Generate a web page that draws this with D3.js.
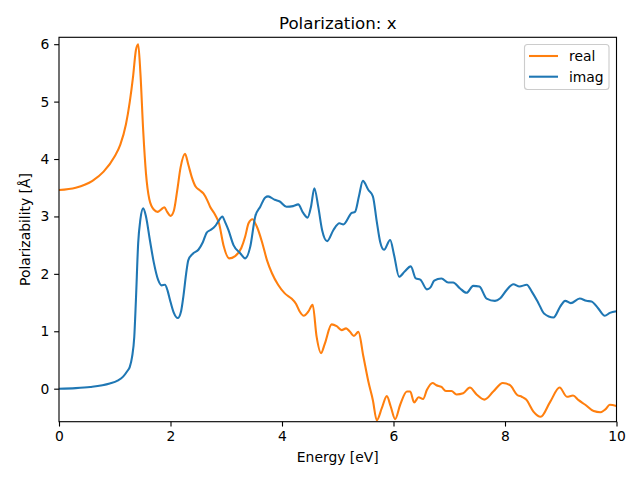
<!DOCTYPE html>
<html>
<head>
<meta charset="utf-8">
<script src="https://cdn.jsdelivr.net/npm/d3@7"></script>
<style>
  html, body { margin: 0; padding: 0; background: #fff; }
  text { font-family: "DejaVu Sans", sans-serif; }
</style>
</head>
<body>
<svg id="chart" width="640" height="480"></svg>
<script>
// ---- data ----
const realX = [0,0.3,0.6,0.8,1.0,1.1,1.2,1.27,1.33,1.38,1.42,1.46,1.51,1.56,1.62,1.7,1.77,1.83,1.89,1.94,2.0,2.06,2.12,2.18,2.26,2.32,2.38,2.45,2.52,2.59,2.66,2.71,2.80,2.87,2.95,3.05,3.16,3.27,3.34,3.40,3.47,3.55,3.64,3.73,3.82,3.93,4.05,4.17,4.25,4.32,4.39,4.47,4.55,4.62,4.70,4.77,4.89,4.98,5.07,5.15,5.22,5.29,5.37,5.46,5.55,5.63,5.70,5.79,5.88,5.95,6.03,6.12,6.24,6.30,6.37,6.45,6.53,6.60,6.70,6.77,6.86,6.94,7.04,7.13,7.25,7.37,7.49,7.63,7.79,7.96,8.09,8.22,8.30,8.38,8.51,8.64,8.81,8.98,9.11,9.22,9.32,9.44,9.59,9.71,9.80,9.88,10.0];
const realY = [3.46,3.50,3.62,3.78,4.05,4.25,4.6,5.0,5.45,5.9,6.0,5.5,4.5,3.75,3.3,3.12,3.08,3.12,3.16,3.08,3.01,3.1,3.45,3.85,4.09,3.9,3.69,3.52,3.46,3.40,3.28,3.17,3.03,2.88,2.50,2.27,2.31,2.45,2.65,2.88,2.95,2.82,2.56,2.24,2.01,1.81,1.66,1.57,1.48,1.34,1.27,1.34,1.46,0.91,0.62,0.79,1.12,1.09,1.02,1.05,0.99,0.92,0.99,0.56,0.12,-0.20,-0.55,-0.34,-0.13,-0.31,-0.53,-0.28,-0.05,-0.05,-0.24,-0.15,-0.18,-0.02,0.10,0.06,0.03,-0.04,-0.04,-0.10,-0.08,0.02,-0.10,-0.19,-0.05,0.10,0.06,-0.11,-0.14,-0.19,-0.40,-0.49,-0.23,0.02,-0.14,-0.12,-0.20,-0.28,-0.39,-0.41,-0.36,-0.28,-0.30];

const imagX = [0,0.3,0.56,0.91,1.05,1.15,1.22,1.27,1.31,1.35,1.38,1.42,1.46,1.51,1.56,1.63,1.7,1.78,1.84,1.90,1.95,1.99,2.06,2.13,2.19,2.23,2.28,2.32,2.40,2.50,2.58,2.65,2.71,2.80,2.86,2.93,2.98,3.04,3.13,3.25,3.34,3.43,3.52,3.61,3.70,3.75,3.87,3.96,4.08,4.20,4.29,4.38,4.46,4.52,4.58,4.65,4.72,4.81,4.92,5.03,5.10,5.25,5.31,5.38,5.45,5.55,5.63,5.70,5.76,5.83,5.94,6.01,6.10,6.20,6.31,6.40,6.48,6.60,6.66,6.73,6.86,6.98,7.07,7.19,7.31,7.43,7.54,7.67,7.82,7.91,8.03,8.15,8.26,8.39,8.48,8.60,8.70,8.87,8.99,9.08,9.18,9.34,9.46,9.55,9.67,9.79,9.88,10.0];
const imagY = [0.0,0.01,0.03,0.09,0.14,0.21,0.30,0.38,0.55,0.9,1.55,2.53,2.95,3.14,3.0,2.59,2.2,1.89,1.80,1.81,1.7,1.55,1.32,1.23,1.35,1.60,2.0,2.24,2.35,2.42,2.55,2.72,2.76,2.83,2.92,3.0,2.9,2.76,2.50,2.36,2.27,2.47,3.0,3.17,3.33,3.35,3.29,3.26,3.17,3.18,3.21,3.06,2.98,3.17,3.49,3.17,2.76,2.57,2.76,2.88,2.86,3.06,3.08,3.35,3.62,3.46,3.35,2.91,2.56,2.42,2.59,2.33,1.95,2.04,2.13,1.92,1.90,1.73,1.76,1.88,1.92,1.85,1.85,1.75,1.67,1.79,1.78,1.57,1.53,1.57,1.72,1.82,1.78,1.81,1.69,1.49,1.31,1.24,1.43,1.53,1.49,1.57,1.53,1.52,1.40,1.27,1.32,1.35];

const xTicks = [0, 2, 4, 6, 8, 10];
const yTicks = [0, 1, 2, 3, 4, 5, 6];
const seriesNames = ["real", "imag"];
const seriesColors = ["#ff7f0e", "#1f77b4"];

// ---- layout ----
const svg = d3.select("#chart");
const L = 59, R = 616.5, T = 37.3, B = 421.7;
const x = d3.scaleLinear().domain([0, 10]).range([L, R]);
const y = d3.scaleLinear().domain([-0.575, 6.12]).range([B, T]);
const pt = 100 / 72;

const series = [
  realX.map((v, i) => [v, realY[i]]),
  imagX.map((v, i) => [v, imagY[i]])
];

svg.append("defs").append("clipPath").attr("id", "clip")
  .append("rect").attr("x", L).attr("y", T).attr("width", R - L).attr("height", B - T);

const line = d3.line().x(d => x(d[0])).y(d => y(d[1])).curve(d3.curveMonotoneX);

const g = svg.append("g").attr("clip-path", "url(#clip)");
series.forEach((s, i) => {
  g.append("path").datum(s).attr("d", line)
    .attr("fill", "none").attr("stroke", seriesColors[i])
    .attr("stroke-width", 1.5 * pt).attr("stroke-linejoin", "round").attr("stroke-linecap", "square");
});

// axes
const xAxis = d3.axisBottom(x).tickValues(xTicks).tickSize(3.5 * pt).tickPadding(3.5 * pt).tickFormat(d3.format("d"));
const yAxis = d3.axisLeft(y).tickValues(yTicks).tickSize(3.5 * pt).tickPadding(3.5 * pt).tickFormat(d3.format("d"));

const gx = svg.append("g").attr("transform", `translate(0,${B})`).call(xAxis);
const gy = svg.append("g").attr("transform", `translate(${L},0)`).call(yAxis);
[gx, gy].forEach(a => {
  a.select(".domain").remove();
  a.selectAll(".tick line").attr("stroke", "#000").attr("stroke-width", 0.8 * pt);
  a.selectAll(".tick text").attr("fill", "#000").style("font-size", (10 * pt) + "px").style("font-family", "DejaVu Sans");
});

// frame
svg.append("rect").attr("x", L).attr("y", T).attr("width", R - L).attr("height", B - T)
  .attr("fill", "none").attr("stroke", "#000").attr("stroke-width", 0.8 * pt);

// title & labels
svg.append("text").attr("x", (L + R) / 2).attr("y", 29).attr("text-anchor", "middle")
  .style("font-size", (12 * pt) + "px").text("Polarization: x");
svg.append("text").attr("x", (L + R) / 2).attr("y", 462).attr("text-anchor", "middle")
  .style("font-size", (10 * pt) + "px").text("Energy [eV]");
svg.append("text").attr("transform", `translate(30,${(T + B) / 2}) rotate(-90)`).attr("text-anchor", "middle")
  .style("font-size", (10 * pt) + "px").text("Polarizability [Å]");

// legend
const lg = svg.append("g");
lg.append("rect").attr("x", 524.5).attr("y", 44.5).attr("width", 84.5).attr("height", 45)
  .attr("rx", 3).attr("fill", "#fff").attr("fill-opacity", 0.8).attr("stroke", "#cccccc").attr("stroke-width", 0.8 * pt);
seriesNames.forEach((n, i) => {
  const yy = 56 + i * 20.7;
  lg.append("line").attr("x1", 529).attr("x2", 558).attr("y1", yy).attr("y2", yy)
    .attr("stroke", seriesColors[i]).attr("stroke-width", 1.5 * pt);
  lg.append("text").attr("x", 569).attr("y", yy + 4.8).style("font-size", (10 * pt) + "px").text(n);
});
</script>
</body>
</html>
